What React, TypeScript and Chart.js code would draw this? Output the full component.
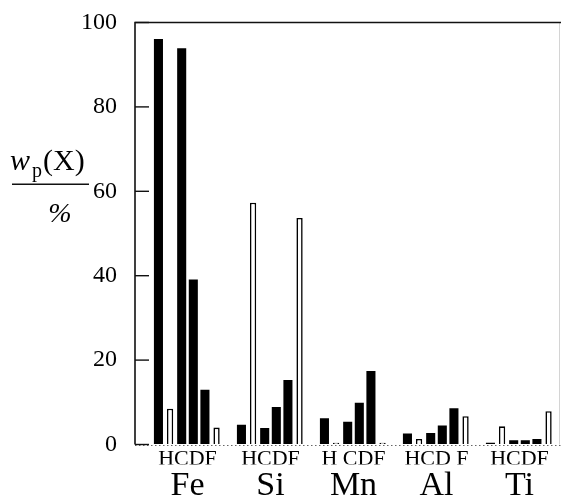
import React, { useEffect, useRef } from "react";
import { Chart, registerables } from "chart.js";
Chart.register(...registerables);

const elements = ["Fe", "Si", "Mn", "Al", "Ti"];
const sampleLetters = ["HCDF", "HCDF", "H CDF", "HCD F", "HCDF"];
const yTicks = [0, 20, 40, 60, 80, 100];

// six bars per element group (left to right)
const bar1 = [96.1, 4.7, 6.2, 2.6, 0.4];
const bar2 = [8.5, 57.3, 0.4, 1.3, 4.3];
const bar3 = [93.9, 3.9, 5.4, 2.7, 1.0];
const bar4 = [39.1, 8.9, 9.9, 4.5, 1.0];
const bar5 = [13.0, 15.3, 17.4, 8.6, 1.3];
const bar6 = [4.0, 53.7, 0.4, 6.7, 7.9];
const barSeries = [bar1, bar2, bar3, bar4, bar5, bar6];
const barFilled = [true, false, true, true, true, false];

const SERIF = '"Liberation Serif", "Times New Roman", serif';

const framePlugin = {
  id: "frame",
  beforeDatasetsDraw(chart: any) {
    const { ctx, chartArea, scales } = chart;
    const y = scales.y;
    const axisX = chartArea.left - 11;
    const y0 = y.getPixelForValue(0);
    const yTop = y.getPixelForValue(100);
    ctx.save();
    // dotted baseline
    ctx.strokeStyle = "#666";
    ctx.lineWidth = 1;
    ctx.setLineDash([1.5, 2.5]);
    ctx.beginPath();
    ctx.moveTo(axisX, Math.round(y0) + 0.5);
    ctx.lineTo(chart.width, Math.round(y0) + 0.5);
    ctx.stroke();
    ctx.setLineDash([]);
    // faint right edge
    ctx.strokeStyle = "#d4d4d4";
    ctx.beginPath();
    ctx.moveTo(chart.width - 1.5, yTop);
    ctx.lineTo(chart.width - 1.5, y0);
    ctx.stroke();
    // left axis + top line
    ctx.strokeStyle = "#111";
    ctx.lineWidth = 1.6;
    ctx.beginPath();
    ctx.moveTo(axisX, y0);
    ctx.lineTo(axisX, yTop);
    ctx.lineTo(chart.width, yTop);
    ctx.stroke();
    // inward ticks
    ctx.lineWidth = 1.4;
    for (const v of yTicks) {
      const py = y.getPixelForValue(v);
      ctx.beginPath();
      ctx.moveTo(axisX, py);
      ctx.lineTo(axisX + 14, py);
      ctx.stroke();
    }
    ctx.restore();
  },
  afterDraw(chart: any) {
    const { ctx, scales } = chart;
    const y = scales.y;
    const lineY = y.getPixelForValue(60) - 7;
    ctx.save();
    ctx.fillStyle = "#000";
    ctx.textBaseline = "alphabetic";
    ctx.textAlign = "left";
    const base = lineY - 14;
    ctx.font = `italic 30px ${SERIF}`;
    ctx.fillText("w", 10, base);
    const wW = ctx.measureText("w").width;
    ctx.font = `20px ${SERIF}`;
    ctx.fillText("p", 10 + wW + 2, base + 7);
    const pW = ctx.measureText("p").width;
    ctx.font = `30px ${SERIF}`;
    ctx.fillText("(X)", 10 + wW + 2 + pW + 1, base);
    ctx.strokeStyle = "#111";
    ctx.lineWidth = 1.5;
    ctx.beginPath();
    ctx.moveTo(12, lineY);
    ctx.lineTo(89, lineY);
    ctx.stroke();
    ctx.font = `italic 28px ${SERIF}`;
    ctx.textAlign = "center";
    ctx.fillText("%", 60, lineY + 38);
    ctx.restore();
  },
};

export default function App() {
  const ref = useRef<HTMLCanvasElement>(null);
  useEffect(() => {
    document.body.style.margin = "0";
    const canvas = ref.current!;
    const chart = new Chart(canvas, {
      type: "bar",
      data: {
        labels: elements,
        datasets: barSeries.map((d, i) => ({
          label: `bar ${i + 1}`,
          data: d,
          backgroundColor: barFilled[i] ? "#000" : "#fff",
          borderColor: "#000",
          borderWidth: barFilled[i] ? 0 : 1.6,
          barPercentage: barFilled[i] ? 0.78 : 0.54,
          categoryPercentage: 0.84,
          xAxisID: "x",
        })),
      },
      options: {
        animation: false,
        responsive: false,
        maintainAspectRatio: false,
        layout: { padding: { top: 22.5, right: 0, left: 0, bottom: 0 } },
        plugins: { legend: { display: false }, tooltip: { enabled: false } },
        scales: {
          x: {
            type: "category",
            position: "bottom",
            grid: { display: false, drawTicks: false },
            border: { display: false },
            ticks: {
              color: "#000",
              font: { family: SERIF, size: 22, lineHeight: 1 },
              padding: 4,
              maxRotation: 0,
              autoSkip: false,
              callback: (_v: any, i: number) => sampleLetters[i],
            },
            afterFit: (s: any) => {
              s.height = 20;
            },
          },
          x2: {
            type: "category",
            position: "bottom",
            labels: elements,
            grid: { display: false, drawTicks: false },
            border: { display: false },
            ticks: {
              color: "#000",
              font: { family: SERIF, size: 34, lineHeight: 1 },
              padding: 5,
              maxRotation: 0,
              autoSkip: false,
            },
            afterFit: (s: any) => {
              s.height = 37.5;
            },
          },
          y: {
            min: 0,
            max: 100,
            grid: {
              display: true,
              drawOnChartArea: false,
              color: "rgba(0,0,0,0)",
              drawTicks: true,
              tickLength: 29,
            },
            border: { display: false },
            ticks: {
              stepSize: 20,
              color: "#000",
              font: { family: SERIF, size: 24 },
              padding: 0,
            },
            afterFit: (s: any) => {
              s.width = 146;
            },
          },
        },
      },
      plugins: [framePlugin],
    });
    return () => chart.destroy();
  }, []);
  return <canvas ref={ref} width={561} height={502} style={{ display: "block" }} />;
}
